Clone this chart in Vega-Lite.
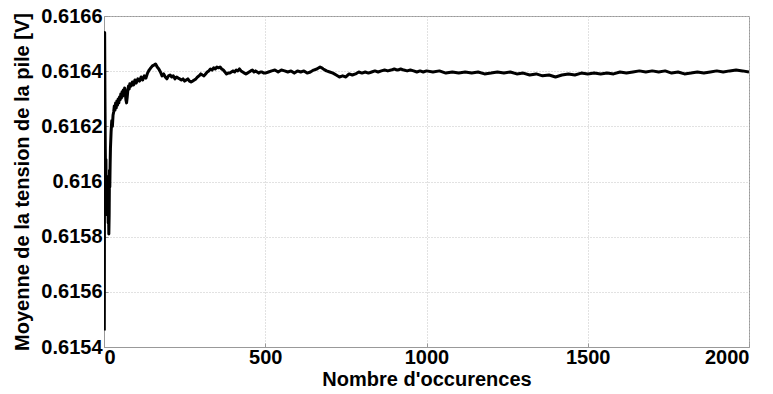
{
  "$schema": "https://vega.github.io/schema/vega-lite/v6.json",
  "width": 645,
  "height": 331,
  "autosize": "none",
  "padding": {"left": 104, "top": 16, "right": 24, "bottom": 47},
  "background": "white",
  "config": {
    "view": {"stroke": "#999", "strokeWidth": 1},
    "axis": {
      "labelFont": "Liberation Sans",
      "labelFontWeight": "bold",
      "labelFontSize": 20,
      "labelColor": "black",
      "titleFont": "Liberation Sans",
      "titleFontWeight": "bold",
      "titleFontSize": 20,
      "titleColor": "black",
      "domainColor": "#999",
      "tickColor": "#999",
      "gridColor": "#c4c4c4",
      "gridDash": [1, 2],
      "gridWidth": 1
    }
  },
  "data": {
    "values": [
      {"n": 1, "v": 0.61546},
      {"n": 2, "v": 0.61654},
      {"n": 3, "v": 0.61630},
      {"n": 4, "v": 0.61612},
      {"n": 5, "v": 0.61600},
      {"n": 6, "v": 0.61608},
      {"n": 7, "v": 0.61592},
      {"n": 8, "v": 0.61602},
      {"n": 9, "v": 0.61588},
      {"n": 10, "v": 0.61600},
      {"n": 11, "v": 0.61590},
      {"n": 12, "v": 0.61597},
      {"n": 13, "v": 0.61585},
      {"n": 14, "v": 0.61592},
      {"n": 15, "v": 0.61581},
      {"n": 16, "v": 0.61588},
      {"n": 17, "v": 0.61604},
      {"n": 18, "v": 0.61598},
      {"n": 19, "v": 0.61606},
      {"n": 20, "v": 0.61612},
      {"n": 22, "v": 0.61618},
      {"n": 24, "v": 0.61622},
      {"n": 26, "v": 0.61620},
      {"n": 28, "v": 0.61624},
      {"n": 30, "v": 0.616252},
      {"n": 32, "v": 0.616274},
      {"n": 34, "v": 0.616259},
      {"n": 36, "v": 0.616285},
      {"n": 38, "v": 0.616267},
      {"n": 40, "v": 0.616292},
      {"n": 42, "v": 0.616277},
      {"n": 44, "v": 0.616299},
      {"n": 46, "v": 0.616285},
      {"n": 48, "v": 0.616306},
      {"n": 50, "v": 0.616296},
      {"n": 52, "v": 0.616317},
      {"n": 54, "v": 0.616303},
      {"n": 56, "v": 0.616325},
      {"n": 58, "v": 0.616310},
      {"n": 60, "v": 0.616332},
      {"n": 62, "v": 0.616317},
      {"n": 64, "v": 0.616339},
      {"n": 66, "v": 0.616321},
      {"n": 68, "v": 0.616296},
      {"n": 70, "v": 0.616285},
      {"n": 72, "v": 0.616306},
      {"n": 74, "v": 0.616332},
      {"n": 76, "v": 0.616346},
      {"n": 78, "v": 0.616335},
      {"n": 80, "v": 0.616354},
      {"n": 84, "v": 0.616346},
      {"n": 88, "v": 0.616361},
      {"n": 92, "v": 0.616350},
      {"n": 96, "v": 0.616368},
      {"n": 100, "v": 0.616357},
      {"n": 105, "v": 0.616372},
      {"n": 110, "v": 0.616364},
      {"n": 115, "v": 0.616379},
      {"n": 120, "v": 0.616368},
      {"n": 125, "v": 0.616383},
      {"n": 130, "v": 0.616375},
      {"n": 135, "v": 0.616393},
      {"n": 140, "v": 0.616404},
      {"n": 145, "v": 0.616412},
      {"n": 150, "v": 0.616419},
      {"n": 155, "v": 0.616422},
      {"n": 160, "v": 0.616426},
      {"n": 165, "v": 0.616415},
      {"n": 170, "v": 0.616408},
      {"n": 175, "v": 0.616397},
      {"n": 180, "v": 0.616383},
      {"n": 185, "v": 0.616390},
      {"n": 190, "v": 0.616379},
      {"n": 195, "v": 0.616372},
      {"n": 200, "v": 0.616383},
      {"n": 205, "v": 0.616386},
      {"n": 210, "v": 0.616379},
      {"n": 215, "v": 0.616383},
      {"n": 220, "v": 0.616372},
      {"n": 225, "v": 0.616379},
      {"n": 230, "v": 0.616375},
      {"n": 235, "v": 0.616372},
      {"n": 240, "v": 0.616368},
      {"n": 245, "v": 0.616372},
      {"n": 250, "v": 0.616364},
      {"n": 255, "v": 0.616368},
      {"n": 260, "v": 0.616372},
      {"n": 265, "v": 0.616364},
      {"n": 270, "v": 0.616361},
      {"n": 275, "v": 0.616364},
      {"n": 280, "v": 0.616368},
      {"n": 285, "v": 0.616372},
      {"n": 290, "v": 0.616379},
      {"n": 295, "v": 0.616383},
      {"n": 300, "v": 0.616390},
      {"n": 305, "v": 0.616386},
      {"n": 310, "v": 0.616383},
      {"n": 315, "v": 0.616390},
      {"n": 320, "v": 0.616397},
      {"n": 325, "v": 0.616401},
      {"n": 330, "v": 0.616408},
      {"n": 335, "v": 0.616404},
      {"n": 340, "v": 0.616412},
      {"n": 345, "v": 0.616408},
      {"n": 350, "v": 0.616415},
      {"n": 355, "v": 0.616412},
      {"n": 360, "v": 0.616415},
      {"n": 365, "v": 0.616408},
      {"n": 370, "v": 0.616404},
      {"n": 375, "v": 0.616397},
      {"n": 380, "v": 0.616390},
      {"n": 385, "v": 0.616393},
      {"n": 390, "v": 0.616393},
      {"n": 395, "v": 0.616397},
      {"n": 400, "v": 0.616401},
      {"n": 405, "v": 0.616397},
      {"n": 410, "v": 0.616404},
      {"n": 415, "v": 0.616401},
      {"n": 420, "v": 0.616408},
      {"n": 425, "v": 0.616401},
      {"n": 430, "v": 0.616397},
      {"n": 435, "v": 0.616393},
      {"n": 440, "v": 0.616390},
      {"n": 445, "v": 0.616393},
      {"n": 450, "v": 0.616397},
      {"n": 455, "v": 0.616401},
      {"n": 460, "v": 0.616404},
      {"n": 465, "v": 0.616397},
      {"n": 470, "v": 0.616401},
      {"n": 475, "v": 0.616397},
      {"n": 480, "v": 0.616393},
      {"n": 485, "v": 0.616397},
      {"n": 490, "v": 0.616397},
      {"n": 495, "v": 0.616393},
      {"n": 500, "v": 0.616393},
      {"n": 510, "v": 0.616397},
      {"n": 520, "v": 0.616401},
      {"n": 530, "v": 0.616404},
      {"n": 540, "v": 0.616397},
      {"n": 550, "v": 0.616404},
      {"n": 560, "v": 0.616401},
      {"n": 570, "v": 0.616397},
      {"n": 580, "v": 0.616401},
      {"n": 590, "v": 0.616393},
      {"n": 600, "v": 0.616401},
      {"n": 610, "v": 0.616397},
      {"n": 620, "v": 0.616401},
      {"n": 630, "v": 0.616393},
      {"n": 640, "v": 0.616397},
      {"n": 650, "v": 0.616404},
      {"n": 660, "v": 0.616408},
      {"n": 670, "v": 0.616415},
      {"n": 675, "v": 0.616412},
      {"n": 680, "v": 0.616408},
      {"n": 690, "v": 0.616401},
      {"n": 700, "v": 0.616397},
      {"n": 710, "v": 0.616393},
      {"n": 720, "v": 0.616386},
      {"n": 730, "v": 0.616379},
      {"n": 740, "v": 0.616383},
      {"n": 750, "v": 0.616379},
      {"n": 760, "v": 0.616390},
      {"n": 770, "v": 0.616386},
      {"n": 780, "v": 0.616390},
      {"n": 790, "v": 0.616397},
      {"n": 800, "v": 0.616393},
      {"n": 810, "v": 0.616397},
      {"n": 820, "v": 0.616393},
      {"n": 830, "v": 0.616397},
      {"n": 840, "v": 0.616401},
      {"n": 850, "v": 0.616397},
      {"n": 860, "v": 0.616401},
      {"n": 870, "v": 0.616404},
      {"n": 880, "v": 0.616401},
      {"n": 890, "v": 0.616404},
      {"n": 900, "v": 0.616408},
      {"n": 910, "v": 0.616404},
      {"n": 920, "v": 0.616408},
      {"n": 930, "v": 0.616404},
      {"n": 940, "v": 0.616401},
      {"n": 950, "v": 0.616404},
      {"n": 960, "v": 0.616401},
      {"n": 970, "v": 0.616397},
      {"n": 980, "v": 0.616401},
      {"n": 990, "v": 0.616397},
      {"n": 1000, "v": 0.616401},
      {"n": 1020, "v": 0.616397},
      {"n": 1040, "v": 0.616401},
      {"n": 1060, "v": 0.616393},
      {"n": 1080, "v": 0.616397},
      {"n": 1100, "v": 0.616393},
      {"n": 1120, "v": 0.616397},
      {"n": 1140, "v": 0.616393},
      {"n": 1160, "v": 0.616397},
      {"n": 1180, "v": 0.616390},
      {"n": 1200, "v": 0.616393},
      {"n": 1220, "v": 0.616397},
      {"n": 1240, "v": 0.616393},
      {"n": 1260, "v": 0.616397},
      {"n": 1280, "v": 0.616390},
      {"n": 1300, "v": 0.616393},
      {"n": 1320, "v": 0.616386},
      {"n": 1340, "v": 0.616390},
      {"n": 1360, "v": 0.616383},
      {"n": 1380, "v": 0.616386},
      {"n": 1400, "v": 0.616379},
      {"n": 1420, "v": 0.616386},
      {"n": 1440, "v": 0.616390},
      {"n": 1460, "v": 0.616386},
      {"n": 1480, "v": 0.616393},
      {"n": 1500, "v": 0.616390},
      {"n": 1520, "v": 0.616393},
      {"n": 1540, "v": 0.616390},
      {"n": 1560, "v": 0.616393},
      {"n": 1580, "v": 0.616390},
      {"n": 1600, "v": 0.616397},
      {"n": 1620, "v": 0.616393},
      {"n": 1640, "v": 0.616397},
      {"n": 1660, "v": 0.616401},
      {"n": 1680, "v": 0.616397},
      {"n": 1700, "v": 0.616401},
      {"n": 1720, "v": 0.616397},
      {"n": 1740, "v": 0.616401},
      {"n": 1760, "v": 0.616393},
      {"n": 1780, "v": 0.616397},
      {"n": 1800, "v": 0.616390},
      {"n": 1820, "v": 0.616393},
      {"n": 1840, "v": 0.616397},
      {"n": 1860, "v": 0.616393},
      {"n": 1880, "v": 0.616397},
      {"n": 1900, "v": 0.616401},
      {"n": 1920, "v": 0.616397},
      {"n": 1940, "v": 0.616401},
      {"n": 1960, "v": 0.616404},
      {"n": 1980, "v": 0.616401},
      {"n": 2000, "v": 0.616397}
    ]
  },
  "mark": {"type": "line", "color": "black", "strokeWidth": 3, "clip": true, "strokeJoin": "round"},
  "encoding": {
    "x": {
      "field": "n",
      "type": "quantitative",
      "title": "Nombre d'occurences",
      "scale": {"domain": [0, 2000], "nice": false, "zero": false},
      "axis": {"values": [0, 500, 1000, 1500, 2000], "format": "d", "tickSize": -4, "labelPadding": 4, "titlePadding": 2}
    },
    "y": {
      "field": "v",
      "type": "quantitative",
      "title": "Moyenne de la tension de la pile [V]",
      "scale": {"domain": [0.6154, 0.6166], "nice": false, "zero": false},
      "axis": {"values": [0.6154, 0.6156, 0.6158, 0.616, 0.6162, 0.6164, 0.6166], "format": ".4~f", "tickSize": -4, "labelPadding": 6, "titlePadding": 8}
    }
  }
}
